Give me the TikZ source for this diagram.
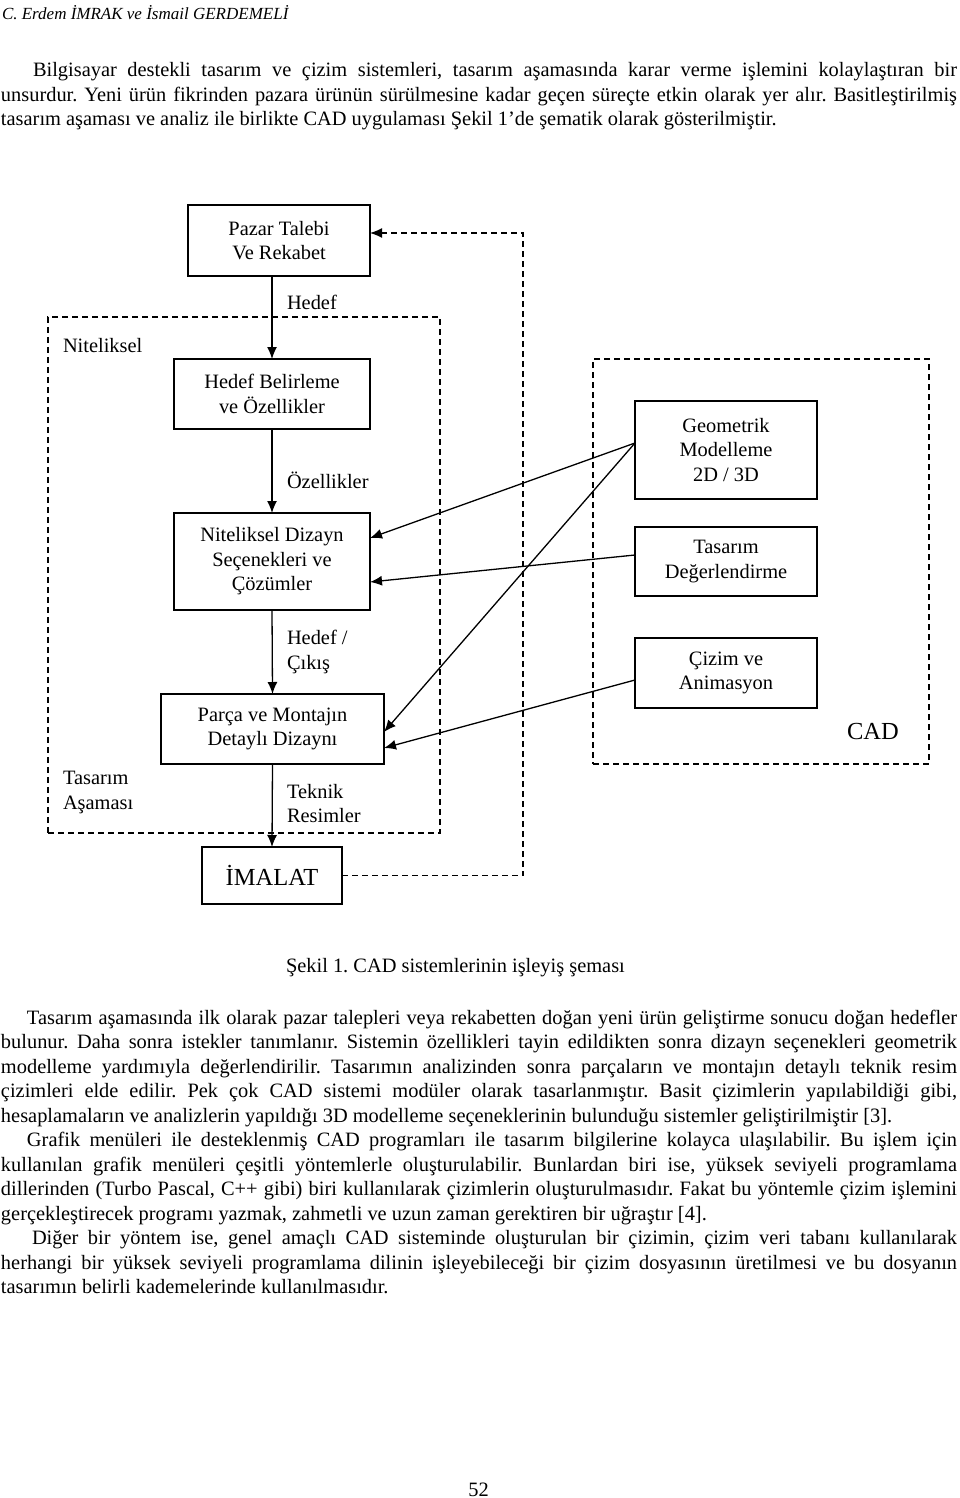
\documentclass[tikz,border=0pt]{standalone}
\usepackage{fontspec}
\setmainfont{Liberation Serif}
\usetikzlibrary{arrows.meta,calc}
\frenchspacing
\newcommand{\jlin}[4]{\node[txt] (#1) at (#2,#3) {\makebox[\dimexpr957pt-#2pt\relax][s]{#4}};}
\newcommand{\nlin}[4]{\node[txt] (#1) at (#2,#3) {#4};}
\begin{document}
\begin{tikzpicture}[x=1pt,y=-1pt,
  every node/.style={inner sep=0pt, outer sep=0pt},
  txt/.style={anchor=base west, font=\fontsize{20.4}{24.5}\selectfont},
  box/.style={draw, line width=1.3pt, align=center, font=\fontsize{20.4}{24.5}\selectfont},
  dbox/.style={draw, line width=1.3pt, dash pattern=on 6pt off 4pt},
  arr/.style={line width=1.3pt, -{Latex[length=12pt,width=10pt]}},
  darr/.style={arr, dash pattern=on 6pt off 4pt},
]
\useasboundingbox (0,0) rectangle (960,1498);

% header
\node[anchor=base west, font=\fontsize{17}{20}\selectfont\itshape] (hdr) at (2,20) {C. Erdem İMRAK ve İsmail GERDEMELİ};

% paragraph 1
\jlin{p1a}{33}{77}{Bilgisayar destekli tasarım ve çizim sistemleri, tasarım aşamasında karar verme işlemini kolaylaştıran bir}
\jlin{p1b}{1}{101.5}{unsurdur. Yeni ürün fikrinden pazara ürünün sürülmesine kadar geçen süreçte etkin olarak yer alır. Basitleştirilmiş}
\nlin{p1c}{1}{126}{tasarım aşaması ve analiz ile birlikte CAD uygulaması Şekil 1’de şematik olarak gösterilmiştir.}

% dashed frames
\node[dbox, minimum width=392pt, minimum height=516pt] (nitbox) at (244,575) {};
\node[dbox, minimum width=336pt, minimum height=405pt] (cadbox) at (761,561.5) {};

% boxes
\node[box, minimum width=182pt, minimum height=71pt] (pazar) at (279,240.5) {Pazar Talebi\\Ve Rekabet};
\node[box, minimum width=196pt, minimum height=70pt] (hb) at (272,394) {Hedef Belirleme\\ve Özellikler};
\node[box, minimum width=196pt, minimum height=97pt] (nd) at (272,561.5) {Niteliksel Dizayn\\Seçenekleri ve\\Çözümler};
\node[box, minimum width=223pt, minimum height=70pt] (pm) at (272.5,729) {Parça ve Montajın\\Detaylı Dizaynı};
\node[box, minimum width=140pt, minimum height=57pt, font=\fontsize{24.5}{28}\selectfont] (im) at (272,875.5) {İMALAT};
\node[box, minimum width=182pt, minimum height=98pt] (geo) at (726,450) {Geometrik\\Modelleme\\2D / 3D};
\node[box, minimum width=182pt, minimum height=69pt] (td) at (726,561.5) {Tasarım\\Değerlendirme};
\node[box, minimum width=182pt, minimum height=70pt] (ca) at (726,673) {Çizim ve\\Animasyon};

% labels
\nlin{lhedef}{287}{309}{Hedef}
\nlin{loz}{287}{488}{Özellikler}
\nlin{lhc1}{287}{644}{Hedef /}
\nlin{lhc2}{287}{669}{Çıkış}
\nlin{ltr1}{287}{798}{Teknik}
\nlin{ltr2}{287}{822}{Resimler}
\nlin{lnit}{63}{352}{Niteliksel}
\nlin{lta1}{63}{784}{Tasarım}
\nlin{lta2}{63}{809}{Aşaması}
\node[anchor=base, font=\fontsize{24.5}{28}\selectfont] (lcad) at (873,739) {CAD};

% main flow
\draw[arr] (pazar.south -| hb.north) -- (hb.north);
\draw[arr] (hb.south) -- (nd.north);
\draw[arr] (nd.south) -- (pm.north);
\draw[arr] (pm.south) -- (im.north);

% CAD links
\draw[arr] ([yshift=7pt]geo.west) -- ([yshift=23.5pt]nd.east);
\draw[arr] ([yshift=7pt]geo.west) -- ([yshift=-3pt]pm.east);
\draw[arr] ([yshift=6.5pt]td.west) -- ([yshift=-20.5pt]nd.east);
\draw[arr] ([yshift=-7pt]ca.west) -- ([yshift=-19pt]pm.east);

% feedback
\coordinate (fb) at (523,233);
\draw[darr] (im.east) -| (fb) -- (fb -| pazar.east);

% caption
\nlin{cap}{286}{972}{Şekil 1. CAD sistemlerinin işleyiş şeması}

% paragraph 2
\jlin{q1}{27}{1024}{Tasarım aşamasında ilk olarak pazar talepleri veya rekabetten doğan yeni ürün geliştirme sonucu doğan hedefler}
\jlin{q2}{1}{1048.5}{bulunur. Daha sonra istekler tanımlanır. Sistemin özellikleri tayin edildikten sonra dizayn seçenekleri geometrik}
\jlin{q3}{1}{1073}{modelleme yardımıyla değerlendirilir. Tasarımın analizinden sonra parçaların ve montajın detaylı teknik resim}
\jlin{q4}{1}{1097.5}{çizimleri elde edilir. Pek çok CAD sistemi modüler olarak tasarlanmıştır. Basit çizimlerin yapılabildiği gibi,}
\nlin{q5}{1}{1122}{hesaplamaların ve analizlerin yapıldığı 3D modelleme seçeneklerinin bulunduğu sistemler geliştirilmiştir [3].}
\jlin{q6}{27}{1146.5}{Grafik menüleri ile desteklenmiş CAD programları ile tasarım bilgilerine kolayca ulaşılabilir. Bu işlem için}
\jlin{q7}{1}{1171}{kullanılan grafik menüleri çeşitli yöntemlerle oluşturulabilir. Bunlardan biri ise, yüksek seviyeli programlama}
\jlin{q8}{1}{1195.5}{dillerinden (Turbo Pascal, C++ gibi) biri kullanılarak çizimlerin oluşturulmasıdır. Fakat bu yöntemle çizim işlemini}
\nlin{q9}{1}{1220}{gerçekleştirecek programı yazmak, zahmetli ve uzun zaman gerektiren bir uğraştır [4].}
\jlin{q10}{32}{1244.5}{Diğer bir yöntem ise, genel amaçlı CAD sisteminde oluşturulan bir çizimin, çizim veri tabanı kullanılarak}
\jlin{q11}{1}{1269}{herhangi bir yüksek seviyeli programlama dilinin işleyebileceği bir çizim dosyasının üretilmesi ve bu dosyanın}
\nlin{q12}{1}{1293.5}{tasarımın belirli kademelerinde kullanılmasıdır.}

% page number
\node[anchor=base, font=\fontsize{20.4}{24.5}\selectfont] (pg) at (478.5,1496.5) {52};
\end{tikzpicture}
\end{document}
